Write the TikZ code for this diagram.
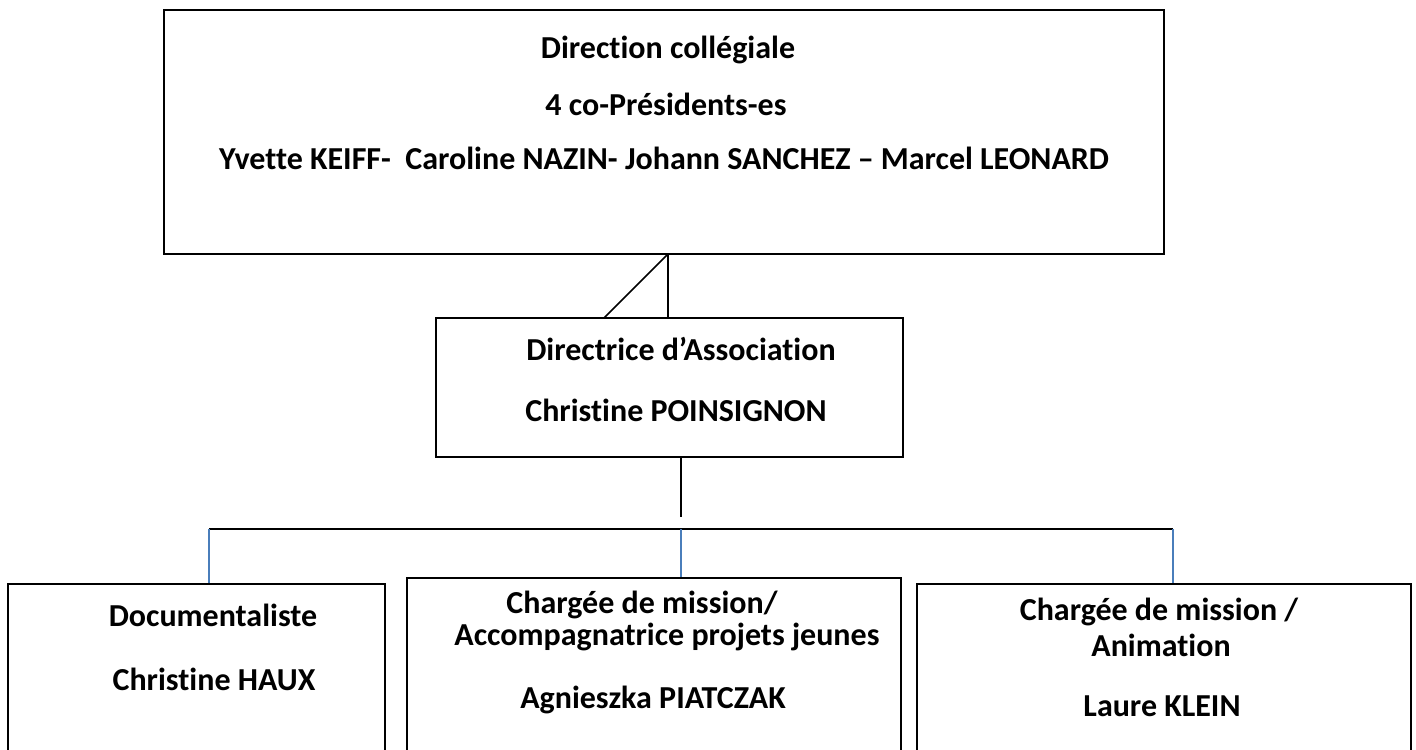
\documentclass[tikz,border=0pt]{standalone}
\usepackage{fontspec}
\setmainfont{Carlito}[Ligatures=NoCommon]
\usepackage{xcolor}
\usepackage{tikz}

\definecolor{linkblue}{RGB}{74,126,187}

\begin{document}
\begin{tikzpicture}[x=0.5pt, y=-0.5pt,
    box/.style={draw, line width=1pt, rectangle, inner sep=0pt},
    txt/.style={font=\bfseries\fontsize{16}{18}\selectfont, inner sep=0pt},
    link/.style={line width=0.8pt},
    drop/.style={line width=0.8pt, draw=linkblue}]
    % page
    \clip (0,0) rectangle (1416,749);

    % boxes
    \node[box, minimum width=500pt, minimum height=122pt] (board) at (664,132) {};
    \node[box, minimum width=233.5pt, minimum height=69.5pt] (director) at (669.5,387.5) {};
    \node[box, minimum width=188.5pt, minimum height=88pt] (doc) at (196.5,672) {};
    \node[box, minimum width=247pt, minimum height=91pt] (youth) at (654,669) {};
    \node[box, minimum width=247pt, minimum height=88pt] (anim) at (1164,672) {};

    % texts
    \node[txt] (board1) at (668,50) {Direction collégiale};
    \node[txt] (board2) at (666,104) {4 co-Présidents-es};
    \node[txt] (board3) at (664,158) {Yvette KEIFF-\ \ Caroline NAZIN- Johann SANCHEZ – Marcel LEONARD};
    \node[txt] (director1) at (681,349) {Directrice d’Association};
    \node[txt] (director2) at (676,410) {Christine POINSIGNON};
    \node[txt] (doc1) at (213,615) {Documentaliste};
    \node[txt] (doc2) at (214,679) {Christine HAUX};
    \node[txt] (youth1) at (642,605) {Chargée de mission/};
    \node[txt] (youth2) at (667,637) {Accompagnatrice projets jeunes};
    \node[txt] (youth3) at (653,700) {Agnieszka PIATCZAK};
    \node[txt] (anim1) at (1159,612) {Chargée de mission /};
    \node[txt] (anim2) at (1161,645) {Animation};
    \node[txt] (anim3) at (1162,706) {Laure KLEIN};

    % board to director
    \coordinate (joint) at (668,254);
    \coordinate (slant) at (604,318);
    \coordinate (stem) at (668,318);
    \draw[link] (joint) -- (slant);
    \draw[link] (joint) -- (stem);

    % director to staff
    \coordinate (trunk) at (681,517);
    \coordinate (barleft) at (209,529);
    \coordinate (barmid) at (681,529);
    \coordinate (barright) at (1173,529);
    \draw[link] (director.south -| trunk) -- (trunk);
    \draw[link] (barleft) -- (barright);
    \draw[drop] (barleft) -- (barleft |- doc.north);
    \draw[drop] (barmid) -- (barmid |- youth.north);
    \draw[drop] (barright) -- (barright |- anim.north);
\end{tikzpicture}
\end{document}
